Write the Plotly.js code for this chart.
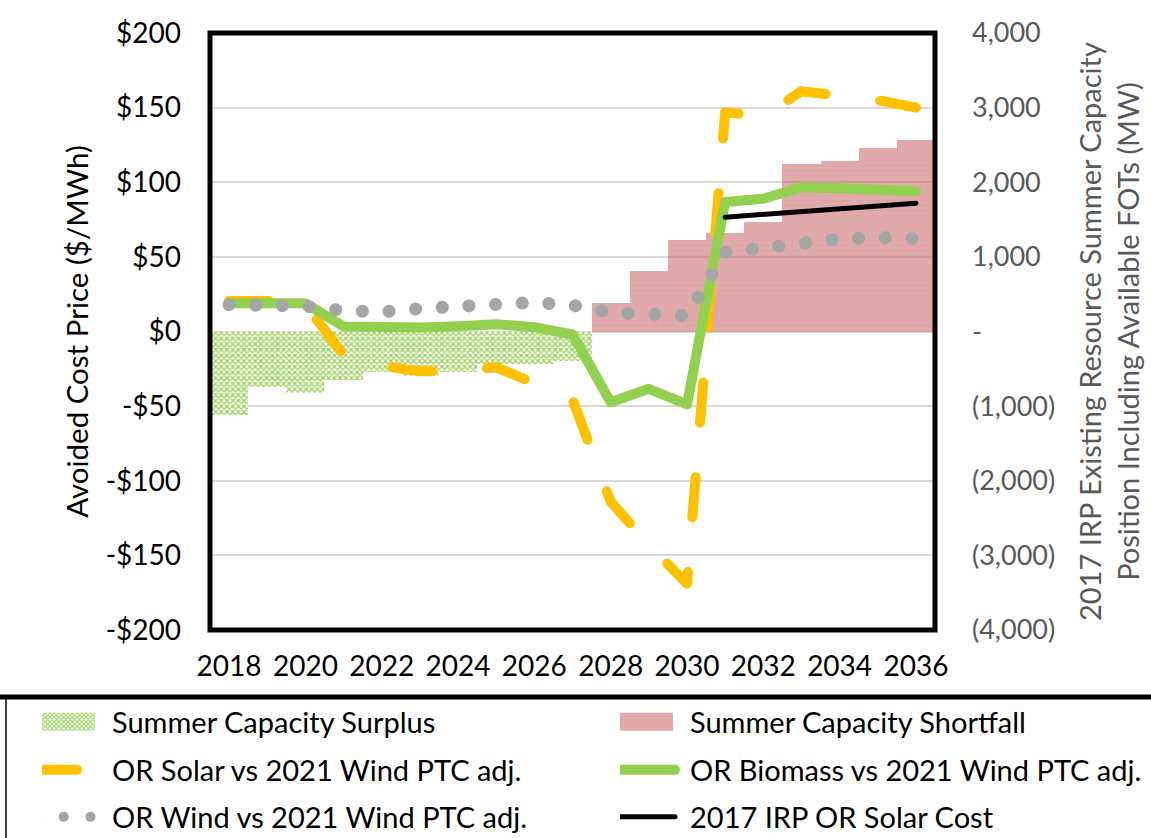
<!DOCTYPE html>
<html>
<head>
<meta charset="utf-8">
<script src="https://cdn.plot.ly/plotly-3.0.1.min.js"></script>
<style>
html,body{margin:0;padding:0;background:#fff;}
#chart{width:1151px;height:838px;}
</style>
</head>
<body>
<div id="chart"></div>
<script>
var years = [2018,2019,2020,2021,2022,2023,2024,2025,2026,2027,2028,2029,2030,2031,2032,2033,2034,2035,2036];
var surplusMW = [-1120,-745,-820,-645,-540,-600,-545,-440,-435,-390,null,null,null,null,null,null,null,null,null];
var shortfallMW = [null,null,null,null,null,null,null,null,null,null,385,815,1220,1320,1465,2250,2285,2465,2570];
var orSolar = [20.5,20.5,18,-15.5,-23,-26.7,-26.5,-24,-34.5,-45.5,-114,-143,-169,147,144,161,158,155,150];
var orBiomass = [19,19,19,3.3,2.2,2.7,3.6,4.9,2.9,-2,-47.4,-38.4,-48.9,86.7,88.9,96.7,96,95.2,94];
var orWind = [18,17.5,17,14,13.1,15.4,17,19.6,19.5,17.6,12.6,11.6,10.6,53,56,59.5,62,63,62];
var irpSolar = [null,null,null,null,null,null,null,null,null,null,null,null,null,76.6,78.6,80.5,82.4,84.2,86];

var priceTicks = [-200,-150,-100,-50,0,50,100,150,200];
var priceTickText = ['-$200','-$150','-$100','-$50','$0','$50','$100','$150','$200'];
var mwTicks = [-4000,-3000,-2000,-1000,0,1000,2000,3000,4000];
var mwTickText = ['(4,000)','(3,000)','(2,000)','(1,000)','-','1,000','2,000','3,000','4,000'];
var yearTicks = [2018,2020,2022,2024,2026,2028,2030,2032,2034,2036];

var FONT = 'Lato, "Open Sans", sans-serif';

var traces = [
  {type:'bar', name:'Summer Capacity Surplus', x:years, y:surplusMW, yaxis:'y', width:1,
   marker:{color:'#92D050', line:{width:0},
     pattern:{shape:'x', size:4, solidity:0.5, fgcolor:'#92D050', bgcolor:'rgba(255,255,255,1)'}},
   legend:'legend', hoverinfo:'skip'},
  {type:'bar', name:'Summer Capacity Shortfall', x:years, y:shortfallMW, yaxis:'y', width:1,
   marker:{color:'rgba(200,95,95,0.52)', line:{width:0},
     pattern:{shape:'+', size:5, solidity:0.15, fgcolor:'rgba(170,70,70,0.25)', fillmode:'overlay'}},
   legend:'legend2', hoverinfo:'skip'},
  {type:'scatter', mode:'lines', name:'OR Solar vs 2021 Wind PTC adj.', x:years, y:orSolar, yaxis:'y2',
   line:{color:'#FFC000', width:10, dash:'40px,55px'}, legend:'legend3'},
  {type:'scatter', mode:'lines', name:'OR Biomass vs 2021 Wind PTC adj.', x:years, y:orBiomass, yaxis:'y2',
   line:{color:'#92D050', width:10}, legend:'legend4'},
  {type:'scatter', mode:'lines', name:'OR Wind vs 2021 Wind PTC adj.', x:years, y:orWind, yaxis:'y2',
   line:{color:'#A5A5A5', width:13, dash:'0.1px,26.6px'}, legend:'legend5'},
  {type:'scatter', mode:'lines', name:'2017 IRP OR Solar Cost', x:years, y:irpSolar, yaxis:'y2',
   line:{color:'#000000', width:5}, legend:'legend6', connectgaps:false}
];

function legendCfg(px, py){
  return {orientation:'v', x:(px-210)/725, xanchor:'left', y:(630-py)/597, yanchor:'middle',
    font:{family:FONT, size:29, color:'#000'}, itemwidth:60,
    bgcolor:'rgba(0,0,0,0)', borderwidth:0};
}

var layout = {
  width:1151, height:838,
  margin:{l:210, r:216, t:33, b:208, autoexpand:false},
  paper_bgcolor:'#fff', plot_bgcolor:'#fff',
  font:{family:FONT, size:28, color:'#000'},
  barmode:'relative', bargap:0,
  showlegend:true,
  xaxis:{range:[2017.5,2036.5], tickvals:yearTicks, ticktext:yearTicks.map(String), showgrid:false, zeroline:false,
    showline:false, ticks:'', ticklabelstandoff:17, tickfont:{family:FONT, size:28, color:'#000'}},
  yaxis:{range:[-4000,4000], side:'right', tickvals:mwTicks, ticktext:mwTickText, showgrid:true, gridcolor:'#D9D9D9',
    gridwidth:2, zeroline:false, showline:false, ticks:'', ticklabelstandoff:36,
    tickfont:{family:FONT, size:27, color:'#595959'},
    title:{text:'2017 IRP Existing Resource Summer Capacity<br>Position Including Available FOTs (MW)',
      font:{family:FONT, size:29, color:'#595959'}, standoff:26}},
  yaxis2:{range:[-200,200], side:'left', overlaying:'y', tickvals:priceTicks, ticktext:priceTickText, showgrid:false,
    zeroline:false, showline:false, ticks:'', ticklabelstandoff:28,
    tickfont:{family:FONT, size:28, color:'#000'},
    title:{text:'Avoided Cost Price ($/MWh)', font:{family:FONT, size:29.5, color:'#000'}, standoff:8}},
  legend:legendCfg(42, 722),
  legend2:legendCfg(620, 722),
  legend3:legendCfg(42, 770),
  legend4:legendCfg(620, 770),
  legend5:legendCfg(42, 817),
  legend6:legendCfg(620, 817),
  shapes:[
    {type:'rect', xref:'paper', yref:'paper', x0:0, x1:1, y0:0, y1:1, line:{color:'#000', width:5}, layer:'above'},
    {type:'line', xref:'paper', yref:'paper', x0:(6-210)/725, x1:(6-210)/725, y0:(630-838)/597, y1:(630-697)/597,
      line:{color:'#404040', width:2}, layer:'above'},
    {type:'line', xref:'paper', yref:'paper', x0:(0-210)/725, x1:(1151-210)/725, y0:(630-697)/597, y1:(630-697)/597,
      line:{color:'#000', width:5}, layer:'above'}
  ]
};

function fixStyles(){
  var paths = document.querySelectorAll('.scatterlayer .js-line, .legendpoints .js-line, .legendlines path');
  paths.forEach(function(p){ p.style.strokeLinecap='round'; p.style.strokeLinejoin='round'; });
  document.querySelectorAll('g.legendlines').forEach(function(g){ g.setAttribute('transform','translate(-10,0)'); });
  var bars = document.querySelectorAll('g.legendpoints path');
  bars.forEach(function(p){
    if(p.classList.contains('js-line')) return;
    if(p.closest('.legendlines')) return;
    if(p.getAttribute('data-fixed')) return;
    var bb = p.getBBox();
    if(!bb || bb.width === 0) return;
    var cx = bb.x + bb.width/2, cy = bb.y + bb.height/2;
    p.setAttribute('d','M'+(cx-48)+','+(cy-9)+'H'+(cx+18)+'V'+(cy+9)+'H'+(cx-48)+'Z');
    p.setAttribute('data-fixed','1');
  });
}

Plotly.newPlot('chart', traces, layout, {displayModeBar:false, staticPlot:true}).then(function(gd){
  fixStyles();
  gd.on('plotly_afterplot', fixStyles);
});
</script>
</body>
</html>
